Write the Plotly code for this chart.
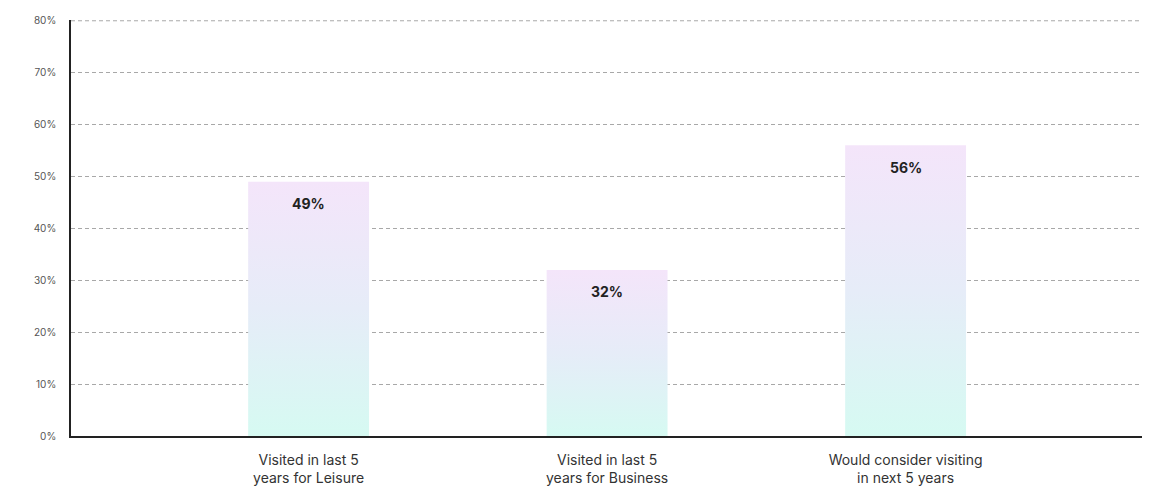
import plotly.graph_objects as go

categories = ["Visited in last 5<br>years for Leisure",
              "Visited in last 5<br>years for Business",
              "Would consider visiting<br>in next 5 years"]
values = [49, 32, 56]
value_labels = ["49%", "32%", "56%"]
ytick_vals = [0, 10, 20, 30, 40, 50, 60, 70, 80]
ytick_text = ["0%", "10%", "20%", "30%", "40%", "50%", "60%", "70%", "80%"]
Y_MAX = 80

BAR_W = 0.405
fig = go.Figure()
for i, v in enumerate(values):
    fig.add_trace(go.Scatter(
        x=[i - BAR_W / 2, i + BAR_W / 2, i + BAR_W / 2, i - BAR_W / 2, i - BAR_W / 2],
        y=[0, 0, v, v, 0],
        mode="lines", line=dict(width=0), fill="toself",
        fillgradient=dict(type="vertical",
                          colorscale=[[0, "#d6faf2"], [0.5, "#e6ecf8"], [1, "#f4e5fa"]]),
        hoverinfo="skip", showlegend=False))
    fig.add_annotation(x=i, y=v, text="<b>" + value_labels[i] + "</b>", showarrow=False,
                       yshift=-22, font=dict(family="Inter", size=14, color="#222222"))

# top gridline (Plotly omits the grid line at the very edge of the range)
fig.add_shape(type="line", xref="paper", x0=0, x1=1, yref="y", y0=Y_MAX, y1=Y_MAX,
              line=dict(color="#a8a8a8", width=1, dash="4px,3px"), layer="below")

fig.update_layout(
    width=1153, height=486,
    margin=dict(l=63, r=19, t=12, b=58),
    paper_bgcolor="white", plot_bgcolor="white",
    xaxis=dict(range=[-0.796, 2.792], tickvals=[0, 1, 2], ticktext=categories,
               showgrid=False, zeroline=False, showline=True, linecolor="#222222", linewidth=1.5,
               tickfont=dict(family="Inter", size=14, color="#333333"), ticks="",
               ticklabelstandoff=10, automargin=False),
    yaxis=dict(range=[0, Y_MAX + 0.15], tickvals=ytick_vals, ticktext=ytick_text,
               showgrid=True, gridcolor="#a8a8a8", griddash="4px,3px", gridwidth=1,
               zeroline=False, showline=True, linecolor="#222222", linewidth=1.5,
               tickfont=dict(family="Inter", size=10, color="#555555"), ticks="",
               ticklabelstandoff=11, automargin=False),
    font=dict(family="Inter"),
)
fig.write_html("out.html")
